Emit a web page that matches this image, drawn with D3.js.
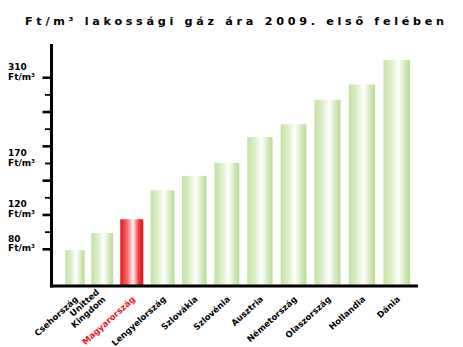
<!DOCTYPE html>
<html>
<head>
<meta charset="utf-8">
<script src="https://cdn.jsdelivr.net/npm/d3@7"></script>
<style>
  html, body { margin: 0; padding: 0; background: #fff; }
  svg { display: block; }
  text { font-family: "DejaVu Sans", Verdana, sans-serif; font-weight: bold; }
</style>
</head>
<body>
<svg id="chart" width="463" height="347"></svg>
<script>
// Household gas prices, Ft/m³, first half of 2009
const countries = ["Csehország", "Unitted\nKingdom", "Magyarország", "Lengyelország", "Szlovákia",
  "Szlovénia", "Ausztria", "Németország", "Olaszország", "Hollandia", "Dánia"];
const prices = [79, 99, 115, 144, 158, 171, 213, 234, 274, 299, 339];
const highlight = "Magyarország";

// Labelled axis values and the tick step each one sits on
const axisValues = [310, 170, 120, 80];
const axisSteps = [0, 5, 8, 10];
const axisUnit = "Ft/m³";
const tickCount = 10;

const title = "Ft/m³ lakossági gáz ára 2009. első felében";

const svg = d3.select("#chart");
const baseY = 286, axisX = 51.5, axisTop = 44, axisRight = 418;

// Gradients give the bars their glossy cylinder look
const defs = svg.append("defs");
function gloss(id, stops) {
  const g = defs.append("linearGradient").attr("id", id)
    .attr("x1", "0%").attr("x2", "100%").attr("y1", "0%").attr("y2", "0%");
  stops.forEach(([o, c]) => g.append("stop").attr("offset", o).attr("stop-color", c));
}
gloss("greenGloss", [["0%", "#c3e2a3"], ["30%", "#dcefca"], ["56%", "#ffffff"], ["80%", "#d3eabd"], ["100%", "#b9da98"]]);
gloss("redGloss", [["0%", "#e5161c"], ["30%", "#f2676a"], ["56%", "#ffeeee"], ["80%", "#f03a3d"], ["100%", "#de1016"]]);

// Vertical scale: evenly spaced ticks, labelled values pinned to their steps
const step = d3.scaleLinear().domain([0, tickCount]).range([77.7, 249.3]);
const y = d3.scaleLinear().domain(axisValues).range(axisSteps.map(step));

// Horizontal scale: slots widen slightly towards the right
const n = countries.length;
const x = d3.scalePow().exponent(1.1).domain([0, n]).range([62.8, 414.3]);

// Bars
svg.append("g").selectAll("rect").data(prices).join("rect")
  .attr("x", (d, i) => x(i + 0.12))
  .attr("width", (d, i) => x(i + 0.88) - x(i + 0.12))
  .attr("y", d => y(d))
  .attr("height", d => baseY - y(d))
  .attr("fill", (d, i) => countries[i] === highlight ? "url(#redGloss)" : "url(#greenGloss)");

// Axis lines
svg.append("line").attr("x1", axisX).attr("x2", axisX).attr("y1", axisTop).attr("y2", baseY + 1.5)
  .attr("stroke", "#000").attr("stroke-width", 3);
svg.append("line").attr("x1", axisX - 1.5).attr("x2", axisRight).attr("y1", baseY).attr("y2", baseY)
  .attr("stroke", "#000").attr("stroke-width", 3);

// Tick marks: long on even steps, short on odd ones
svg.append("g").selectAll("line").data(d3.range(tickCount + 1)).join("line")
  .attr("x1", i => i % 2 === 0 ? 42.5 : 45)
  .attr("x2", axisX)
  .attr("y1", i => step(i)).attr("y2", i => step(i))
  .attr("stroke", "#000").attr("stroke-width", i => i % 2 === 0 ? 2.6 : 1.8);

// Axis labels: value over unit
const yl = svg.append("g").selectAll("text").data(axisValues).join("text")
  .attr("x", 8).attr("font-size", 9).attr("fill", "#000");
yl.append("tspan").attr("x", 8).attr("y", d => y(d) - 7.5).text(d => d);
yl.append("tspan").attr("x", 8).attr("y", d => y(d) + 2).text(axisUnit);

// Country labels, rotated
const xl = svg.append("g").selectAll("text").data(countries).join("text")
  .attr("transform", (d, i) => `translate(${x(i + 0.5) + 4},${baseY + 14}) rotate(-42)`)
  .attr("text-anchor", "end").attr("font-size", 8.5)
  .attr("fill", d => d === highlight ? "#e8141a" : "#000");
xl.each(function (d) {
  const lines = d.split("\n");
  const t = d3.select(this);
  lines.forEach((s, k) => t.append("tspan").attr("x", 0)
    .attr("y", (k - (lines.length - 1)) * 9.5).text(s));
});

// Title, spread out across the top
svg.append("text").attr("x", 25).attr("y", 25)
  .attr("font-size", 11.2).attr("fill", "#000")
  .attr("textLength", 419).attr("lengthAdjust", "spacing")
  .text(title);
</script>
</body>
</html>
